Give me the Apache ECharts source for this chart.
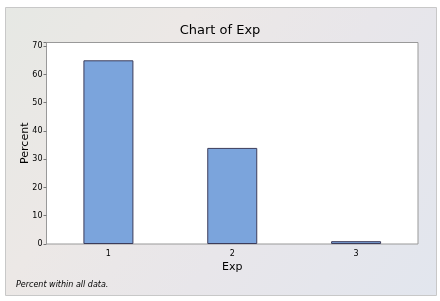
<!DOCTYPE html>
<html><head><meta charset="utf-8">
<script src="https://cdn.jsdelivr.net/npm/echarts@6/dist/echarts.min.js"></script>
<style>html,body{margin:0;padding:0;background:#fff}#c{width:440px;height:301px}</style>
</head><body><div id="c"></div>
<script>
const categories = ['1', '2', '3'];
const percentValues = [65, 34, 1];
const yTicks = [0, 10, 20, 30, 40, 50, 60, 70];

const chart = echarts.init(document.getElementById('c'), null, {renderer: 'canvas'});
const font = 'Tahoma, "DejaVu Sans", sans-serif';
chart.setOption({
  animation: false,
  graphic: [
    {type: 'rect', shape: {x: 5.5, y: 7.5, width: 431, height: 288},
     style: {fill: new echarts.graphic.LinearGradient(0, 0, 1, 1, [
       {offset: 0, color: '#e6e8e4'},
       {offset: 0.3, color: '#ece8e6'},
       {offset: 0.6, color: '#e8e6ea'},
       {offset: 1, color: '#e2e6ee'}
     ]), stroke: '#c8c8c8', lineWidth: 1}, z: -10},
    {type: 'text', left: 16, top: 281,
     style: {text: 'Percent within all data.', font: 'italic 8px ' + font, fill: '#000'}}
  ],
  title: {text: 'Chart of Exp', left: 'center', top: 19,
    textStyle: {fontFamily: font, fontSize: 13, fontWeight: 'normal', color: '#000'}},
  grid: {left: 46.5, right: 22, top: 42.5, bottom: 57, show: true,
    backgroundColor: '#fff', borderColor: '#999', borderWidth: 1},
  xAxis: {type: 'category', data: categories, name: 'Exp', nameLocation: 'middle', nameGap: 18,
    nameMoveOverlap: false,
    nameTextStyle: {fontFamily: font, fontSize: 11, color: '#000'},
    axisLine: {show: false},
    axisTick: {alignWithLabel: true, length: 3, lineStyle: {color: '#777'}},
    axisLabel: {fontFamily: font, fontSize: 8, color: '#000', margin: 6}},
  yAxis: {type: 'value', min: 0, max: 71.3, interval: 10, name: 'Percent', nameLocation: 'middle', nameGap: 16,
    nameMoveOverlap: false,
    nameTextStyle: {fontFamily: font, fontSize: 11, color: '#000'},
    splitLine: {show: false},
    axisLine: {show: false},
    axisTick: {show: true, length: 3, lineStyle: {color: '#777'}},
    axisLabel: {fontFamily: font, fontSize: 8, color: '#000', margin: 4,
      formatter: v => yTicks.includes(v) ? String(v) : ''}},
  series: [{type: 'bar', data: percentValues, barWidth: 50,
    itemStyle: {color: '#7ba4dc', borderColor: '#3c3c5a', borderWidth: 1}}]
});
</script></body></html>
